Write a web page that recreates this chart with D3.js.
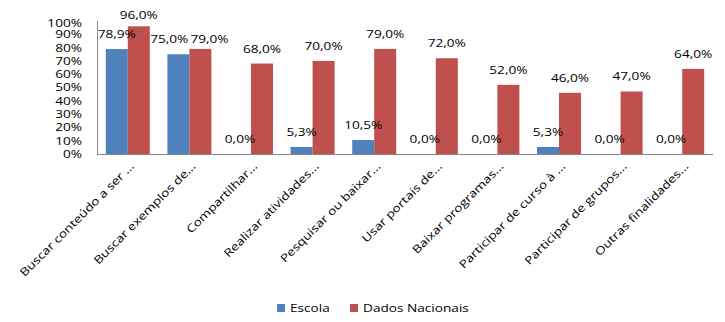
<!DOCTYPE html>
<html>
<head>
<meta charset="utf-8">
<script src="https://cdn.jsdelivr.net/npm/d3@7"></script>
<style>
  html, body { margin: 0; padding: 0; background: #fff; }
  svg { display: block; font-family: "Open Sans", sans-serif; }
</style>
</head>
<body>
<svg id="chart" width="725" height="322"></svg>
<script>
const categories = [
  "Buscar conteúdo a ser ...",
  "Buscar exemplos de...",
  "Compartilhar...",
  "Realizar atividades...",
  "Pesquisar ou baixar...",
  "Usar portais de...",
  "Baixar programas...",
  "Participar de curso à ...",
  "Participar de grupos...",
  "Outras finalidades..."
];
const seriesNames = ["Escola", "Dados Nacionais"];
const escola = [78.9, 75.0, 0.0, 5.3, 10.5, 0.0, 0.0, 5.3, 0.0, 0.0];
const nacionais = [96.0, 79.0, 68.0, 70.0, 79.0, 72.0, 52.0, 46.0, 47.0, 64.0];
const yTicks = [0, 10, 20, 30, 40, 50, 60, 70, 80, 90, 100];
const colors = ["#4F81BD", "#C0504D"];

// Text is drawn slightly wide: a compact font size stretched along the baseline.
const FS = 11, SX = 1.24;

const svg = d3.select("#chart");
const plot = { left: 97, right: 713, top: 21, bottom: 154 };

const x0 = d3.scaleBand().domain(categories).range([plot.left, plot.right]).paddingInner(0.286).paddingOuter(0.143);
const x1 = d3.scaleBand().domain(seriesNames).range([0, x0.bandwidth()]);
const y = d3.scaleLinear().domain([0, 100]).range([plot.bottom, plot.top]);

const fmt = v => d3.format(".1f")(v).replace(".", ",") + "%";

function wideText(sel, x, y, rot) {
  return sel.attr("transform", (d, i) =>
      `translate(${x(d, i)},${y(d, i)})` + (rot ? ` rotate(${rot})` : "") + ` scale(${SX},1)`)
    .attr("font-size", FS).attr("fill", "#000");
}

// Y axis labels
wideText(svg.append("g").selectAll("text").data(yTicks).join("text"),
    () => plot.left - 15, d => Math.max(y(d), 23.5))
  .attr("dy", "0.36em").attr("text-anchor", "end")
  .text(d => d + "%");

// Bars
const series = [escola, nacionais];
const rows = categories.map((c, i) => ({ c, vals: series.map((s, k) => ({ k, name: seriesNames[k], v: s[i] })) }));
const groups = svg.append("g").selectAll("g").data(rows).join("g")
  .attr("transform", d => `translate(${x0(d.c)},0)`);

groups.selectAll("rect").data(d => d.vals).join("rect")
  .attr("x", d => x1(d.name)).attr("width", x1.bandwidth())
  .attr("y", d => y(d.v)).attr("height", d => y(0) - y(d.v))
  .attr("fill", d => colors[d.k]);

// Value labels above each bar
groups.each(function (row) {
  const g = d3.select(this);
  const labels = row.vals.map(d => ({
    d, cx: x1(d.name) + x1.bandwidth() / 2, by: Math.max(19, y(d.v) - 11)
  }));
  const texts = labels.map(l => g.append("text")
    .attr("text-anchor", "middle").attr("font-size", FS).attr("fill", "#000")
    .text(fmt(l.d.v)));
  labels.forEach((l, i) => { l.w = texts[i].node().getComputedTextLength() * SX; });
  // When the pair collides, put them on one line, side by side.
  const [a, b] = labels;
  const overlapX = (a.cx + a.w / 2) > (b.cx - b.w / 2);
  const overlapY = Math.abs(a.by - b.by) < 13;
  if (overlapX && overlapY) {
    const base = Math.max(a.by, b.by);
    const mid = (a.cx + b.cx) / 2;
    a.by = b.by = base;
    a.cx = mid - 1 - a.w / 2;
    b.cx = mid + 1 + b.w / 2;
  }
  labels.forEach((l, i) => texts[i].attr("transform", `translate(${l.cx},${l.by}) scale(${SX},1)`));
});

// Axis lines
svg.append("line").attr("x1", plot.left + 0.5).attr("x2", plot.left + 0.5).attr("y1", plot.top).attr("y2", plot.bottom)
  .attr("stroke", "#868686");
svg.append("line").attr("x1", plot.left).attr("x2", plot.right).attr("y1", plot.bottom + 0.5).attr("y2", plot.bottom + 0.5)
  .attr("stroke", "#868686");

// Category labels, rotated
wideText(svg.append("g").selectAll("text").data(categories).join("text"),
    d => x0(d) + x0.bandwidth() / 2 + 7, () => plot.bottom + 13, -45)
  .attr("text-anchor", "end")
  .text(d => d);

// Legend
const legend = svg.append("g").attr("transform", "translate(277,304)");
const lx = [0, 73];
seriesNames.forEach((n, i) => {
  legend.append("rect").attr("x", lx[i]).attr("y", 0).attr("width", 8).attr("height", 8).attr("fill", colors[i]);
  legend.append("text").attr("transform", `translate(${lx[i] + 13},8) scale(${SX},1)`)
    .attr("font-size", FS).attr("fill", "#000").text(n);
});
</script>
</body>
</html>
